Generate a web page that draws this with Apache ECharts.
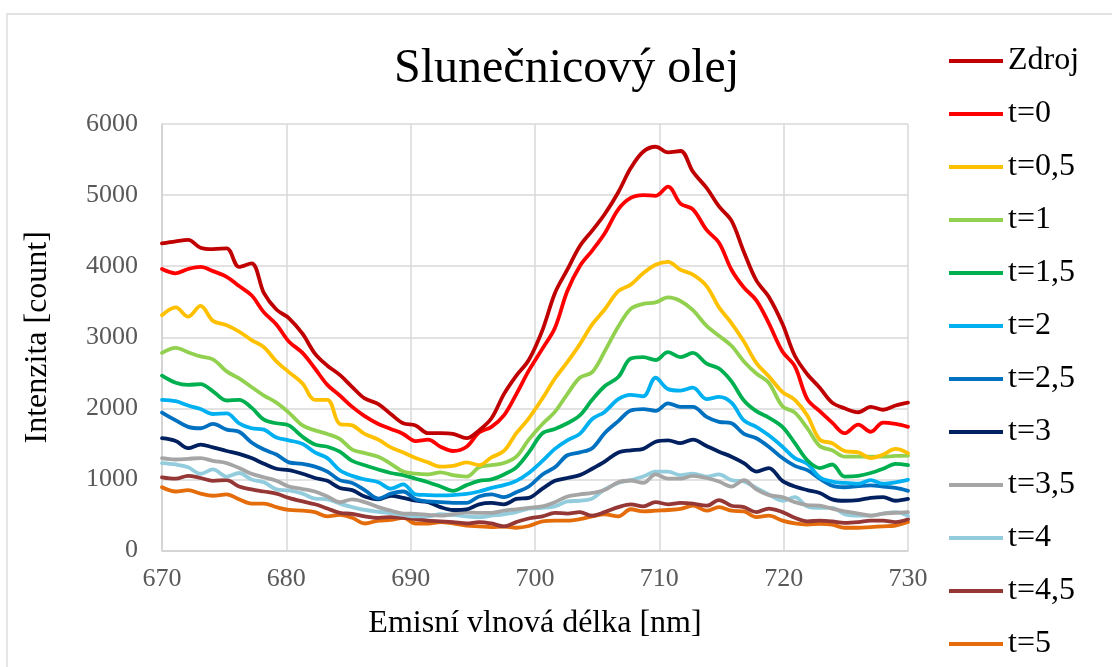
<!DOCTYPE html>
<html>
<head>
<meta charset="utf-8">
<title>Slunečnicový olej</title>
<script src="https://cdn.jsdelivr.net/npm/echarts@6/dist/echarts.min.js"></script>
<style>
  html, body { margin: 0; padding: 0; background: #ffffff; }
  #chart { width: 1112px; height: 667px; }
</style>
</head>
<body>
<div id="chart"></div>
<script>
// Emission wavelengths of the spectrometer pixels [nm]
const wavelengths = [670.0, 671.1, 672.1, 673.1, 674.1, 675.2, 676.2, 677.2, 678.2, 679.2,
  680.2, 681.3, 682.3, 683.3, 684.3, 685.3, 686.3, 687.4, 688.4, 689.4,
  690.4, 691.4, 692.4, 693.4, 694.5, 695.5, 696.5, 697.5, 698.5, 699.5,
  700.6, 701.6, 702.6, 703.6, 704.6, 705.6, 706.7, 707.7, 708.7, 709.7,
  710.7, 711.7, 712.7, 713.8, 714.8, 715.8, 716.8, 717.8, 718.8, 719.9,
  720.9, 721.9, 722.9, 723.9, 724.9, 726.0, 727.0, 728.0, 729.0, 730.0];

// Intensity [count] for the source and each time step
const zdroj = [4320, 4350, 4370, 4260, 4240, 4250, 3990, 4040, 3620, 3390,
  3270, 3050, 2770, 2600, 2470, 2300, 2140, 2060, 1920, 1790,
  1760, 1650, 1650, 1640, 1580, 1690, 1860, 2200, 2460, 2680,
  3100, 3620, 3950, 4280, 4500, 4730, 5040, 5380, 5610, 5680,
  5600, 5620, 5330, 5100, 4840, 4640, 4200, 3800, 3570, 3190,
  2740, 2480, 2290, 2080, 2000, 1945, 2020, 1980, 2040, 2080];
const t0 = [3960, 3900, 3960, 3990, 3930, 3850, 3720, 3590, 3350, 3180,
  2940, 2780, 2560, 2330, 2180, 2020, 1890, 1780, 1710, 1640,
  1540, 1560, 1460, 1400, 1460, 1660, 1740, 1900, 2200, 2530,
  2840, 3130, 3650, 4000, 4220, 4460, 4800, 4960, 5000, 4990,
  5120, 4880, 4800, 4510, 4330, 3950, 3700, 3520, 3200, 2800,
  2590, 2130, 1960, 1800, 1650, 1770, 1670, 1800, 1780, 1740];
const t05 = [3310, 3420, 3290, 3440, 3230, 3170, 3080, 2960, 2860, 2660,
  2510, 2350, 2120, 2120, 1780, 1760, 1640, 1560, 1450, 1380,
  1300, 1240, 1180, 1190, 1240, 1200, 1310, 1400, 1650, 1860,
  2140, 2420, 2650, 2900, 3180, 3390, 3650, 3740, 3900, 4020,
  4060, 3950, 3880, 3720, 3420, 3200, 2940, 2640, 2450, 2230,
  2120, 1900, 1560, 1510, 1400, 1380, 1300, 1350, 1430, 1370];
const t1 = [2780, 2850, 2790, 2730, 2690, 2520, 2420, 2300, 2180, 2080,
  1940, 1760, 1690, 1640, 1570, 1420, 1370, 1320, 1220, 1110,
  1080, 1070, 1100, 1060, 1040, 1170, 1200, 1230, 1320, 1560,
  1780, 1950, 2200, 2430, 2510, 2800, 3150, 3400, 3470, 3490,
  3560, 3510, 3380, 3160, 3020, 2880, 2660, 2490, 2360, 2030,
  1940, 1720, 1470, 1410, 1320, 1320, 1320, 1320, 1330, 1335];
const t15 = [2460, 2360, 2330, 2340, 2240, 2110, 2120, 2010, 1840, 1790,
  1760, 1600, 1490, 1460, 1390, 1260, 1200, 1140, 1090, 1060,
  1010, 960, 900, 840, 920, 980, 1000, 1070, 1170, 1380,
  1650, 1710, 1790, 1900, 2120, 2310, 2440, 2700, 2720, 2680,
  2790, 2720, 2780, 2630, 2560, 2380, 2110, 1960, 1870, 1740,
  1510, 1270, 1160, 1210, 1040, 1050, 1090, 1150, 1220, 1200];
const t2 = [2120, 2100, 2040, 1990, 1920, 1930, 1790, 1720, 1700, 1590,
  1550, 1500, 1380, 1300, 1130, 1050, 1000, 960, 870, 930,
  790, 780, 775, 780, 795, 830, 880, 920, 980, 1090,
  1260, 1430, 1550, 1640, 1850, 1950, 2130, 2190, 2170, 2430,
  2270, 2250, 2290, 2130, 2160, 2080, 1830, 1740, 1620, 1460,
  1300, 1220, 1030, 970, 950, 940, 990, 940, 960, 995];
const t25 = [1940, 1830, 1740, 1720, 1780, 1700, 1670, 1520, 1420, 1350,
  1240, 1220, 1180, 1110, 990, 950, 850, 730, 800, 830,
  720, 690, 680, 670, 670, 760, 790, 750, 820, 900,
  1070, 1170, 1340, 1380, 1440, 1650, 1820, 1970, 1990, 1965,
  2070, 2020, 2020, 1880, 1810, 1790, 1640, 1580, 1460, 1300,
  1190, 1130, 1010, 910, 890, 905, 915, 900, 880, 840];
const t3 = [1580, 1540, 1440, 1490, 1450, 1400, 1360, 1300, 1220, 1150,
  1130, 1080, 1020, 980, 880, 850, 760, 720, 770, 740,
  700, 680, 610, 570, 580, 650, 670, 650, 725, 740,
  870, 980, 1020, 1060, 1150, 1250, 1380, 1410, 1430, 1530,
  1550, 1510, 1560, 1470, 1390, 1320, 1230, 1110, 1160, 980,
  900, 850, 810, 720, 700, 710, 740, 750, 700, 725];
const t35 = [1300, 1280, 1290, 1300, 1260, 1230, 1160, 1080, 1030, 980,
  900, 865, 830, 760, 680, 720, 680, 610, 560, 520,
  515, 500, 490, 510, 535, 530, 530, 560, 580, 600,
  620, 680, 760, 790, 810, 850, 960, 985, 950, 1070,
  1010, 1010, 1050, 1020, 970, 900, 990, 860, 780, 750,
  680, 640, 630, 590, 550, 520, 490, 520, 530, 540];
const t4 = [1230, 1210, 1170, 1080, 1140, 1040, 1090, 1000, 960, 860,
  845, 800, 730, 720, 660, 610, 570, 545, 525, 500,
  480, 480, 510, 500, 480, 470, 490, 510, 540, 590,
  600, 620, 690, 700, 730, 860, 950, 990, 1040, 1110,
  1110, 1060, 1080, 1040, 1070, 990, 970, 880, 790, 700,
  750, 620, 600, 600, 510, 490, 490, 520, 540, 490];
const t45 = [1030, 1010, 1050, 1020, 980, 990, 900, 860, 830, 800,
  740, 690, 650, 590, 530, 515, 480, 460, 470, 460,
  440, 420, 410, 400, 380, 400, 380, 340, 400, 450,
  480, 530, 520, 540, 490, 540, 610, 650, 620, 680,
  650, 670, 660, 630, 710, 630, 610, 540, 590, 540,
  460, 410, 420, 410, 390, 400, 420, 420, 400, 440];
const t5 = [890, 830, 850, 800, 770, 790, 720, 660, 660, 610,
  570, 560, 540, 480, 500, 460, 380, 420, 430, 460,
  380, 380, 400, 380, 350, 340, 330, 335, 320, 345,
  410, 420, 420, 440, 480, 510, 480, 580, 550, 560,
  570, 585, 630, 560, 610, 560, 550, 470, 490, 420,
  380, 365, 375, 365, 320, 320, 330, 340, 350, 400];

const seriesNames = ['Zdroj', 't=0', 't=0,5', 't=1', 't=1,5', 't=2', 't=2,5',
  't=3', 't=3,5', 't=4', 't=4,5', 't=5'];
const seriesValues = [zdroj, t0, t05, t1, t15, t2, t25, t3, t35, t4, t45, t5];
const seriesColors = ['#C00000', '#FF0000', '#FFC000', '#92D050', '#00B050', '#00B0F0',
  '#0070C0', '#002060', '#A5A5A5', '#93CDDD', '#953735', '#E46C0A'];

const xTicks = [670, 680, 690, 700, 710, 720, 730];
const yTicks = [0, 1000, 2000, 3000, 4000, 5000, 6000];

const serif = "Liberation Serif";
const gridColor = '#D9D9D9';

const chart = echarts.init(document.getElementById('chart'), null, { renderer: 'canvas' });

const series = seriesNames.map((name, k) => ({
  name: name,
  type: 'line',
  data: wavelengths.map((w, i) => [w, seriesValues[k][i]]),
  showSymbol: false,
  symbol: 'none',
  smooth: 0.35,
  clip: true,
  lineStyle: { color: seriesColors[k], width: 3.8, cap: 'round', join: 'round' },
  itemStyle: { color: seriesColors[k] },
  z: 20 - k
}));

chart.setOption({
  backgroundColor: '#ffffff',
  animation: false,
  textStyle: { fontFamily: serif },
  title: {
    text: 'Slunečnicový olej',
    left: 389,
    top: 40,
    textStyle: { fontFamily: serif, fontSize: 48, fontWeight: 'normal', color: '#000000' }
  },
  graphic: [{
    type: 'rect',
    shape: { x: 7, y: 14, width: 1200, height: 800 },
    style: { fill: 'none', stroke: gridColor, lineWidth: 1.3 },
    silent: true,
    z: -10
  }],
  legend: {
    orient: 'vertical',
    left: 949,
    top: 45,
    bottom: 0,
    padding: 0,
    itemWidth: 54,
    itemHeight: 4,
    itemGap: 21,
    icon: 'rect',
    textStyle: { fontFamily: serif, fontSize: 32, lineHeight: 32, color: '#000000' },
    data: seriesNames
  },
  grid: { left: 162, right: 204, top: 124, bottom: 116.5, containLabel: false },
  xAxis: {
    type: 'value',
    min: xTicks[0],
    max: xTicks[xTicks.length - 1],
    interval: xTicks[1] - xTicks[0],
    name: 'Emisní vlnová délka [nm]',
    nameLocation: 'middle',
    nameGap: 57,
    nameTextStyle: { fontFamily: serif, fontSize: 32, color: '#000000' },
    axisLine: { show: true, lineStyle: { color: '#D0D0D0', width: 1.5 } },
    axisTick: { show: false },
    axisLabel: { fontFamily: serif, fontSize: 26, color: '#595959', margin: 16,
      formatter: (v) => String(v) },
    splitLine: { show: true, lineStyle: { color: gridColor, width: 1.5 } }
  },
  yAxis: {
    type: 'value',
    min: yTicks[0],
    max: yTicks[yTicks.length - 1],
    interval: yTicks[1] - yTicks[0],
    name: 'Intenzita [count]',
    nameLocation: 'middle',
    nameGap: 108,
    nameRotate: 90,
    nameTextStyle: { fontFamily: serif, fontSize: 32, color: '#000000' },
    axisLine: { show: true, lineStyle: { color: '#D0D0D0', width: 1.5 } },
    axisTick: { show: false },
    axisLabel: { fontFamily: serif, fontSize: 26, color: '#595959', margin: 24,
      formatter: (v) => String(v) },
    splitLine: { show: true, lineStyle: { color: gridColor, width: 1.5 } }
  },
  series: series
});
</script>
</body>
</html>
